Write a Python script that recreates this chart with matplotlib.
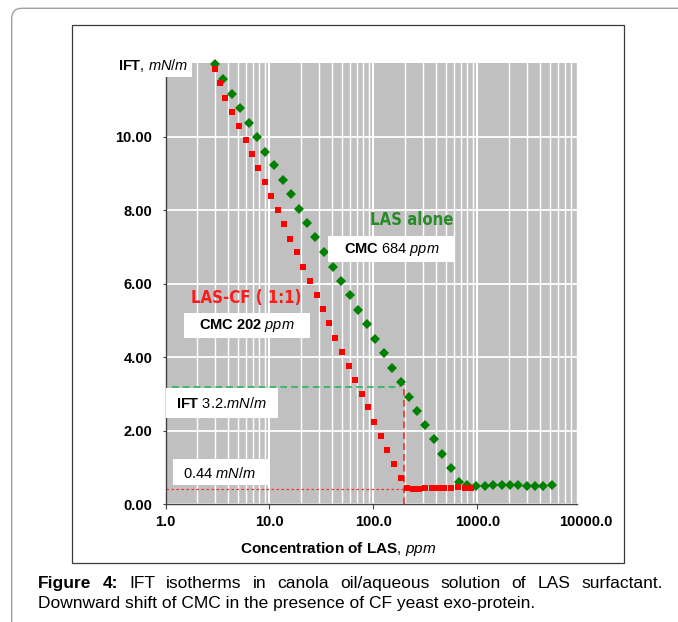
import matplotlib
matplotlib.use("Agg")
import matplotlib.pyplot as plt
import matplotlib.font_manager as fm
from matplotlib.patches import Rectangle, FancyBboxPatch

# ---------------- data ----------------
las_x = [2.98, 3.56, 4.33, 5.21, 6.29, 7.57, 9.14, 11.1, 13.4, 16.1, 19.3, 23.0,
         27.6, 33.7, 40.4, 48.5, 58.9, 71.5, 85.8, 103, 125, 151, 182, 219, 263,
         316, 381, 459, 551, 666, 799, 974, 1169, 1414, 1712, 2068, 2465, 2983,
         3581, 4305, 5165]
las_y = [11.98, 11.57, 11.18, 10.79, 10.38, 9.99, 9.60, 9.22, 8.82, 8.43, 8.03,
         7.64, 7.26, 6.86, 6.46, 6.08, 5.68, 5.28, 4.89, 4.49, 4.10, 3.71, 3.32,
         2.92, 2.54, 2.14, 1.76, 1.36, 0.99, 0.59, 0.52, 0.50, 0.49, 0.51, 0.52,
         0.52, 0.52, 0.50, 0.49, 0.50, 0.52]

cf_x = [2.98, 3.31, 3.77, 4.33, 5.10, 5.89, 6.72, 7.79, 9.02, 10.4, 12.0, 13.9,
        15.8, 18.3, 21.2, 24.5, 28.4, 32.7, 37.2, 43.1, 49.5, 57.8, 66.9, 76.8,
        88.4, 102, 118, 136, 158, 184, 208, 241, 277, 316, 363, 414, 479, 554,
        656, 765, 873]
cf_y = [11.84, 11.46, 11.06, 10.68, 10.29, 9.91, 9.53, 9.16, 8.77, 8.39, 8.01,
        7.63, 7.22, 6.85, 6.46, 6.07, 5.69, 5.31, 4.92, 4.53, 4.15, 3.76, 3.37,
        3.00, 2.63, 2.24, 1.85, 1.47, 1.09, 0.70, 0.43, 0.40, 0.41, 0.43, 0.43,
        0.43, 0.43, 0.43, 0.45, 0.43, 0.43]

# reference lines
ift_level = 3.2          # IFT at CMC of LAS-CF
ift_level_end = 178      # where the green dashed line stops
cmc_cf_x = 196           # vertical red dashed line (CMC of LAS-CF)
ift_min = 0.41           # red dotted line
ref_start_x = 1.146

x_major = [1, 10, 100, 1000]
x_labels = ["1.0", "10.0", "100.0", "1000.0"]
x_extra_tick = 10000
x_extra_label = "10000.0"
y_ticks = [0, 2, 4, 6, 8, 10]
y_labels = ["0.00", "2.00", "4.00", "6.00", "8.00", "10.00"]

# ---------------- fonts ----------------
plt.rcParams["font.family"] = ["Liberation Sans", "DejaVu Sans"]
plt.rcParams["mathtext.fontset"] = "custom"
plt.rcParams["mathtext.rm"] = "Liberation Sans"
plt.rcParams["mathtext.it"] = "Liberation Sans:italic"
plt.rcParams["mathtext.bf"] = "Liberation Sans:bold"


def find_narrow_bold():
    cands = []
    for f in fm.fontManager.ttflist:
        fn = f.fname.lower()
        nm = f.name.lower()
        narrowish = ("narrow" in fn or "condensed" in fn or "narrow" in nm
                     or "condensed" in nm or str(f.stretch) in ("condensed", "semi-condensed"))
        if not narrowish:
            continue
        if "semi" in fn or "extra" in fn or "ultra" in fn:
            continue
        if "italic" in fn or "oblique" in fn or str(f.style) != "normal":
            continue
        w = f.weight if isinstance(f.weight, int) else {"bold": 700}.get(f.weight, 400)
        if w < 600 or w > 750:
            continue
        if "liberation" in fn:
            pref = 0
        elif "noto" in fn:
            pref = 1
        elif "dejavu" in fn:
            pref = 2
        else:
            pref = 3
        cands.append((pref, f.fname))
    cands.sort()
    return cands[0] if cands else None


nb = find_narrow_bold()
if nb and nb[0] == 0:
    narrow_kw = dict(fontproperties=fm.FontProperties(fname=nb[1], size=14))
elif nb:
    narrow_kw = dict(fontproperties=fm.FontProperties(fname=nb[1], size=12))
else:
    narrow_kw = dict(fontsize=11.5, fontweight="bold")

W, H = 678, 622
fig = plt.figure(figsize=(W / 100, H / 100), dpi=100)
fig.patch.set_facecolor("white")

# outer page frame (rounded corner, top + left)
fig.patches.append(FancyBboxPatch((0.117, -1.0), 10.0, (H - 8.3) / 100 + 1.0,
                                  boxstyle="round,pad=0,rounding_size=0.1",
                                  transform=fig.dpi_scale_trans,
                                  facecolor="none", edgecolor="#a0a0a0", lw=1.0))
# chart box
fig.patches.append(Rectangle((71.7 / W, 1 - 563.3 / H), (624 - 71.7) / W,
                             (563.3 - 25) / H, transform=fig.transFigure,
                             facecolor="none", edgecolor="#3a3a3a", lw=0.9))

ax_l, ax_r, ax_t, ax_b = 165.5, 576.7, 63.4, 504.0
ax = fig.add_axes([ax_l / W, 1 - ax_b / H, (ax_r - ax_l) / W, (ax_b - ax_t) / H])
ax.set_facecolor("#c0c0c0")
ax.set_xscale("log")
ax.set_xlim(1, 10 ** ((ax_r - ax_l) / 104.9))
ax.set_ylim(0, 12)

minor = [m * 10 ** d for d in range(0, 4) for m in range(2, 10)]
ax.set_xticks(x_major, labels=x_labels, fontweight="bold", fontsize=10.5)
ax.set_xticks(minor, minor=True)
ax.xaxis.set_minor_formatter(plt.NullFormatter())
ax.set_yticks(y_ticks, labels=y_labels, fontweight="bold", fontsize=10.5)

ax.tick_params(axis="x", which="major", length=3.6, width=0.8, color="#404040", pad=4)
ax.tick_params(axis="x", which="minor", length=0)
ax.tick_params(axis="y", which="major", length=2.5, width=0.8, color="#404040", pad=7)

ax.grid(which="major", axis="x", color="white", lw=1.5)
ax.grid(which="minor", axis="x", color="white", lw=1.0)
ax.grid(which="major", axis="y", color="white", lw=1.3)
ax.set_axisbelow(True)

for s in ("top", "right"):
    ax.spines[s].set_visible(False)
for s in ("left", "bottom"):
    ax.spines[s].set_color("#404040")
    ax.spines[s].set_linewidth(1.0)

# extra 10000.0 label (beyond the axis end)
ax.annotate(x_extra_label, xy=(x_extra_tick, 0), xycoords=("data", "axes fraction"),
            xytext=(3, -7.6), textcoords="offset points", ha="center", va="top",
            fontsize=10.5, fontweight="bold", annotation_clip=False)

# reference lines
ax.plot([ref_start_x, ift_level_end], [ift_level, ift_level], color="#2db35a",
        lw=1.2, ls=(0, (4, 2.5)), zorder=2.5)
ax.plot([cmc_cf_x, cmc_cf_x], [0, 3.28], color="#ff2a2a", lw=1.2,
        ls=(0, (4, 2.5)), zorder=2.5)
ax.plot([1.0, cmc_cf_x], [ift_min, ift_min], color="#ff2a2a", lw=0.9,
        ls=(0, (2, 2)), zorder=2.5)

# series
ax.plot(las_x, las_y, ls="none", marker="D", ms=4.8, mew=0, color="#008000",
        zorder=3, clip_on=False)
ax.plot(cf_x, cf_y, ls="none", marker="s", ms=4.4, mew=0, color="#ff0000",
        zorder=3.1, clip_on=False)


def ax_xy(px, py):
    return (px - ax_l) / (ax_r - ax_l), (ax_b - py) / (ax_b - ax_t)


def white_box(x0, y0, x1, y1):
    a = ax_xy(x0, y1)
    b = ax_xy(x1, y0)
    ax.add_patch(Rectangle(a, b[0] - a[0], b[1] - a[1], transform=ax.transAxes,
                           facecolor="white", edgecolor="none", zorder=4,
                           clip_on=False))


# y-axis label with white box
white_box(110, 55, 192, 77)
ax.text(*ax_xy(188.3, 66), r"$\mathbf{IFT}$, $\mathit{mN/m}$", transform=ax.transAxes,
        ha="right", va="center", fontsize=10.5, zorder=5)

# annotation boxes
white_box(328.3, 236, 455, 261.7)
ax.text(*ax_xy(391.7, 249.3), r"$\mathbf{CMC}$ 684 $\mathit{ppm}$",
        transform=ax.transAxes, ha="center", va="center", fontsize=10.5, zorder=5)

white_box(184, 313.3, 310, 338.3)
ax.text(*ax_xy(247.2, 325.7), r"$\mathbf{CMC\ 202}$ $\mathit{ppm}$",
        transform=ax.transAxes, ha="center", va="center", fontsize=10.5, zorder=5)

white_box(166, 388.3, 278.3, 417.7)
ax.text(*ax_xy(175.7, 403.3), r"$\mathbf{IFT}$ 3.2.$\mathit{mN/m}$",
        transform=ax.transAxes, ha="left", va="center", fontsize=10.5, zorder=5)

white_box(173.3, 459.3, 268.3, 485)
ax.text(*ax_xy(183.3, 473.3), r"0.44 $\mathit{mN/m}$",
        transform=ax.transAxes, ha="left", va="center", fontsize=10.5, zorder=5)

ax.text(*ax_xy(411.7, 220), "LAS alone", transform=ax.transAxes, ha="center",
        va="center", color="#2a8a2a", zorder=5, **narrow_kw)
ax.text(*ax_xy(246, 298.3), "LAS-CF ( 1:1)", transform=ax.transAxes, ha="center",
        va="center", color="#ff1a1a", zorder=5, **narrow_kw)

# x-axis label
fig.text(338 / W, 1 - 549 / H, r"$\mathbf{Concentration\ of\ LAS}$, $\mathit{ppm}$",
         ha="center", va="center", fontsize=11)

# caption (line 1 justified)
cap_size = 12.5
line1 = [("Figure", "bold"), ("4:", "bold"), ("IFT", "normal"), ("isotherms", "normal"),
         ("in", "normal"), ("canola", "normal"), ("oil/aqueous", "normal"),
         ("solution", "normal"), ("of", "normal"), ("LAS", "normal"),
         ("surfactant.", "normal")]
renderer = fig.canvas.get_renderer()
x_left, x_right = 38.3, 662.7
y1 = 1 - 588.3 / H
objs = []
widths = []
for w, wt in line1:
    t = fig.text(0, y1, w, fontsize=cap_size, fontweight=wt, ha="left", va="baseline")
    objs.append(t)
    widths.append(t.get_window_extent(renderer).width)
gap = (x_right - x_left - sum(widths)) / (len(line1) - 1)
xp = x_left
for t, wd in zip(objs, widths):
    t.set_x(xp / W)
    xp += wd + gap
fig.text(x_left / W, 1 - 608.3 / H,
         "Downward shift of CMC in the presence of CF yeast exo-protein.",
         fontsize=cap_size, ha="left", va="baseline")

fig.savefig("out.png", dpi=100, facecolor="white")
